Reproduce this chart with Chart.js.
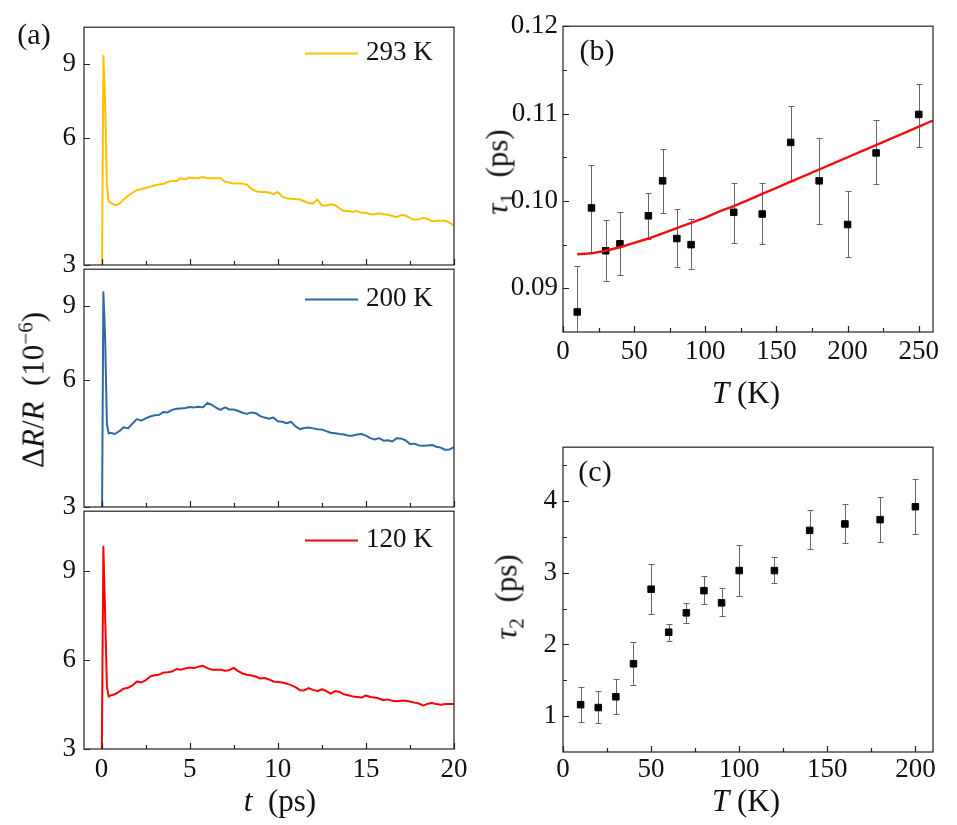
<!DOCTYPE html>
<html>
<head>
<meta charset="utf-8">
<script src="https://cdn.jsdelivr.net/npm/chart.js@4.4.1/dist/chart.umd.min.js"></script>
<style>
  body { margin: 0; background: #fff; width: 957px; height: 825px; position: relative; overflow: hidden;
         font-family: "Liberation Serif", serif; color: #111; }
  canvas { position: absolute; }
  .lbl { position: absolute; white-space: nowrap; transform: translate(-50%, -50%); font-size: 31px; line-height: 1; }
  .rot { transform: translate(-50%, -50%) rotate(-90deg); }
  .lbl sup, .lbl sub { font-size: 0.68em; line-height: 0; }
  .panel { font-size: 30px; }
  .leg { position: absolute; font-size: 27px; line-height: 1; white-space: nowrap; transform: translateY(-50%); }
  .leg span { display: inline-block; width: 53px; height: 2px; vertical-align: middle; margin-right: 8px; }
</style>
</head>
<body>
<canvas id="a1" width="435" height="287" style="left:40px;top:3px"></canvas>
<canvas id="a2" width="435" height="287" style="left:40px;top:245px"></canvas>
<canvas id="a3" width="435" height="300" style="left:40px;top:487px"></canvas>
<canvas id="b" width="450" height="395" style="left:500px;top:5px"></canvas>
<canvas id="c" width="450" height="385" style="left:500px;top:425px"></canvas>

<div class="lbl panel" style="left:34px;top:34px">(a)</div>
<div class="lbl panel" style="left:597px;top:50px">(b)</div>
<div class="lbl panel" style="left:595px;top:471px">(c)</div>

<div class="lbl rot" style="left:33px;top:390px">Δ<i>R</i>/<i>R</i>&nbsp;&nbsp;(10<sup>−6</sup>)</div>
<div class="lbl" style="left:280px;top:800px"><i>t</i>&nbsp;&nbsp;(ps)</div>
<div class="lbl rot" style="left:497px;top:172px"><i>τ</i><sub>1</sub>&nbsp;&nbsp;(ps)</div>
<div class="lbl" style="left:746px;top:392px"><i>T</i> (K)</div>
<div class="lbl rot" style="left:506px;top:597px"><i>τ</i><sub>2</sub>&nbsp;&nbsp;(ps)</div>
<div class="lbl" style="left:746px;top:800px"><i>T</i> (K)</div>

<div class="leg" style="left:305px;top:51px"><span style="background:#FFC000"></span>293 K</div>
<div class="leg" style="left:305px;top:297px"><span style="background:#32679F"></span>200 K</div>
<div class="leg" style="left:305px;top:538px"><span style="background:#FF0000"></span>120 K</div>

<script>
// delay time (ps), shared by the three traces
const tPs = [0, 0.1, 0.2, 0.3, 0.4, 0.5, 0.75, 1, 1.25, 1.5, 1.75, 2, 2.25, 2.5, 2.75, 3, 3.25, 3.5, 3.75, 4,
  4.25, 4.5, 4.75, 5, 5.25, 5.5, 5.75, 6, 6.25, 6.5, 6.75, 7, 7.25, 7.5, 7.75, 8, 8.25, 8.5, 8.75, 9,
  9.25, 9.5, 9.75, 10, 10.25, 10.5, 10.75, 11, 11.25, 11.5, 11.75, 12, 12.25, 12.5, 12.75, 13, 13.25, 13.5, 13.75, 14,
  14.25, 14.5, 14.75, 15, 15.25, 15.5, 15.75, 16, 16.25, 16.5, 16.75, 17, 17.25, 17.5, 17.75, 18, 18.25, 18.5, 18.75, 19,
  19.25, 19.5, 19.75, 20];

const dR293 = [2.0, 9.4, 7.3, 4.65, 4.25, 4.22, 4.16, 4.19, 4.29, 4.38, 4.45, 4.52, 4.54, 4.57, 4.60, 4.63, 4.66, 4.67, 4.72, 4.75,
  4.75, 4.82, 4.79, 4.84, 4.82, 4.82, 4.85, 4.82, 4.82, 4.82, 4.82, 4.73, 4.71, 4.68, 4.68, 4.68, 4.65, 4.55, 4.49, 4.47,
  4.47, 4.46, 4.42, 4.47, 4.36, 4.32, 4.31, 4.30, 4.29, 4.25, 4.21, 4.20, 4.29, 4.15, 4.15, 4.18, 4.16, 4.09, 4.03, 4.03,
  4.01, 4.03, 3.99, 3.99, 3.96, 3.96, 3.98, 3.96, 3.95, 3.92, 3.90, 3.94, 3.93, 3.88, 3.84, 3.85, 3.88, 3.86, 3.81, 3.82,
  3.82, 3.82, 3.78, 3.72];

const dR200 = [2.0, 9.7, 7.55, 4.72, 4.48, 4.50, 4.47, 4.54, 4.64, 4.61, 4.73, 4.85, 4.81, 4.87, 4.92, 4.95, 4.96, 5.04, 5.03, 5.10,
  5.13, 5.14, 5.15, 5.18, 5.17, 5.19, 5.17, 5.30, 5.24, 5.16, 5.10, 5.17, 5.11, 5.11, 5.07, 5.02, 4.99, 5.03, 5.01, 4.93,
  4.89, 4.86, 4.89, 4.79, 4.78, 4.74, 4.78, 4.66, 4.59, 4.62, 4.63, 4.61, 4.59, 4.58, 4.54, 4.50, 4.49, 4.47, 4.46, 4.43,
  4.43, 4.46, 4.47, 4.43, 4.37, 4.34, 4.37, 4.31, 4.32, 4.29, 4.37, 4.36, 4.32, 4.23, 4.24, 4.20, 4.19, 4.20, 4.21, 4.17,
  4.15, 4.10, 4.11, 4.16];

const dR120 = [2.0, 9.8, 7.5, 5.1, 4.76, 4.80, 4.84, 4.93, 5.03, 5.06, 5.14, 5.27, 5.24, 5.31, 5.44, 5.48, 5.50, 5.57, 5.58, 5.61,
  5.69, 5.67, 5.71, 5.74, 5.72, 5.77, 5.80, 5.72, 5.67, 5.67, 5.67, 5.63, 5.65, 5.73, 5.62, 5.54, 5.50, 5.47, 5.44, 5.37,
  5.39, 5.34, 5.27, 5.25, 5.24, 5.20, 5.15, 5.08, 4.98, 4.97, 5.05, 4.99, 4.95, 5.01, 4.95, 4.86, 4.95, 4.92, 4.84, 4.81,
  4.77, 4.75, 4.73, 4.80, 4.75, 4.73, 4.70, 4.64, 4.67, 4.62, 4.61, 4.62, 4.62, 4.60, 4.56, 4.53, 4.46, 4.52, 4.55, 4.51,
  4.49, 4.51, 4.51, 4.51];

// panel (b): tau1 vs T
const bT = [10, 20, 30, 40, 60, 70, 80, 90, 120, 140, 160, 180, 200, 220, 250];
const tau1 = [0.0873, 0.0992, 0.0943, 0.0951, 0.0983, 0.1023, 0.0957, 0.0950, 0.0987, 0.0985, 0.1067, 0.1023, 0.0973, 0.1055, 0.1099];
const tau1Hi = [0.0925, 0.1041, 0.0978, 0.0987, 0.1009, 0.1060, 0.0991, 0.0979, 0.1021, 0.1020, 0.1109, 0.1072, 0.1011, 0.1093, 0.1134];
const tau1Lo = [0.0820, 0.0942, 0.0908, 0.0915, 0.0956, 0.0986, 0.0924, 0.0922, 0.0952, 0.0951, 0.1023, 0.0974, 0.0936, 0.1019, 0.1062];
const fitT = [10, 20, 30, 40, 50, 60, 70, 80, 90, 100, 110, 120, 130, 140, 150, 160, 170, 180, 190, 200, 210, 220, 230, 240, 250, 260];
const fitTau = [0.0939, 0.0940, 0.0943, 0.0947, 0.0952, 0.0957, 0.0963, 0.0969, 0.0975, 0.0981, 0.0988, 0.0994, 0.1001,
  0.1008, 0.1015, 0.1022, 0.1029, 0.1036, 0.1043, 0.1050, 0.1057, 0.1064, 0.1071, 0.1078, 0.1085, 0.1092];

// panel (c): tau2 vs T
const cT = [10, 20, 30, 40, 50, 60, 70, 80, 90, 100, 120, 140, 160, 180, 200];
const tau2 = [1.16, 1.12, 1.27, 1.73, 2.77, 2.17, 2.44, 2.75, 2.58, 3.03, 3.03, 3.59, 3.68, 3.74, 3.92];
const tau2Hi = [1.40, 1.35, 1.52, 2.04, 3.12, 2.29, 2.58, 2.96, 2.78, 3.39, 3.22, 3.87, 3.96, 4.06, 4.30];
const tau2Lo = [0.92, 0.90, 1.03, 1.43, 2.42, 2.05, 2.30, 2.56, 2.39, 2.68, 2.85, 3.33, 3.41, 3.43, 3.54];

// tick values
const aTicksX = [0, 5, 10, 15, 20];
const aMinorX = [2.5, 7.5, 12.5, 17.5];
const aTicksY = [3, 6, 9];
const bTicksX = [0, 50, 100, 150, 200, 250];
const bMinorX = [25, 75, 125, 175, 225];
const bTicksY = [0.09, 0.10, 0.11, 0.12];
const bMinorY = [0.095, 0.105, 0.115];
const cTicksX = [0, 50, 100, 150, 200];
const cMinorX = [25, 75, 125, 175];
const cTicksY = [1, 2, 3, 4];
const cMinorY = [1.5, 2.5, 3.5, 4.5];

const tickFont = { family: "'Liberation Serif', serif", size: 27 };

const pts = (xs, ys) => xs.map((x, i) => ({ x: x, y: ys[i] }));

// frame + inward tick marks
function frameTicks(spec) {
  return {
    id: 'frameTicks',
    afterDraw(chart) {
      const { ctx, chartArea: a, scales } = chart;
      ctx.save();
      ctx.strokeStyle = '#222';
      ctx.lineWidth = 1.2;
      ctx.beginPath();
      const xt = (list, len) => list.forEach(v => {
        const px = Math.round(scales.x.getPixelForValue(v)) + 0.5;
        ctx.moveTo(px, a.bottom); ctx.lineTo(px, a.bottom - len);
      });
      const yt = (list, len) => list.forEach(v => {
        const py = Math.round(scales.y.getPixelForValue(v)) + 0.5;
        ctx.moveTo(a.left, py); ctx.lineTo(a.left + len, py);
      });
      xt(spec.xMajor || [], 6);
      xt(spec.xMinor || [], 4);
      yt(spec.yMajor || [], 6);
      yt(spec.yMinor || [], 4);
      ctx.stroke();
      ctx.strokeRect(a.left, a.top, a.right - a.left, a.bottom - a.top);
      ctx.restore();
    }
  };
}

function errorBars(xs, lo, hi) {
  return {
    id: 'errorBars',
    beforeDatasetsDraw(chart) {
      const { ctx, chartArea: a, scales } = chart;
      ctx.save();
      ctx.beginPath();
      ctx.rect(a.left, a.top, a.right - a.left, a.bottom - a.top);
      ctx.clip();
      ctx.strokeStyle = '#666';
      ctx.lineWidth = 1;
      ctx.beginPath();
      xs.forEach((x, i) => {
        const px = Math.round(scales.x.getPixelForValue(x)) + 0.5;
        const y1 = Math.round(scales.y.getPixelForValue(lo[i])) + 0.5;
        const y2 = Math.round(scales.y.getPixelForValue(hi[i])) + 0.5;
        ctx.moveTo(px, y1); ctx.lineTo(px, y2);
        ctx.moveTo(px - 3, y1); ctx.lineTo(px + 3, y1);
        ctx.moveTo(px - 3, y2); ctx.lineTo(px + 3, y2);
      });
      ctx.stroke();
      ctx.restore();
    }
  };
}

function axis(opts) {
  return {
    type: opts.type || 'linear',
    min: opts.min,
    max: opts.max,
    grid: { display: false, drawTicks: false },
    border: { display: false },
    afterBuildTicks: s => { s.ticks = opts.ticks.map(v => ({ value: v })); },
    afterFit: s => { if (opts.w) s.width = opts.w; if (opts.h) s.height = opts.h; },
    ticks: {
      display: opts.labels !== false,
      font: tickFont,
      color: '#111',
      padding: opts.pad,
      maxRotation: 0,
      autoSkip: false,
      callback: opts.fmt || (v => String(v))
    }
  };
}

function baseOptions(pad, x, y) {
  return {
    responsive: false,
    animation: false,
    events: [],
    layout: { padding: pad },
    plugins: { legend: { display: false }, tooltip: { enabled: false } },
    scales: { x: axis(x), y: axis(y) }
  };
}

// panel (a): three stacked traces
function tracePanel(id, values, color, logY, showX) {
  new Chart(document.getElementById(id), {
    type: 'scatter',
    data: {
      datasets: [{
        data: pts(tPs, values),
        showLine: true,
        borderColor: color,
        borderWidth: 2,
        pointRadius: 0,
        tension: 0,
        borderJoinStyle: 'round',
        clip: 0
      }]
    },
    options: baseOptions(
      { top: 20, right: 21, left: 0, bottom: 0 },
      { min: -1, max: 20, ticks: aTicksX, labels: showX, pad: 5, h: showX ? 38 : 25 },
      { type: logY ? 'logarithmic' : 'linear', min: 3, max: 11, ticks: aTicksY, pad: 8, w: 44 }
    ),
    plugins: [frameTicks({ xMajor: aTicksX, xMinor: aMinorX, yMajor: aTicksY })]
  });
}

tracePanel('a1', dR293, '#FFC000', true, false);
tracePanel('a2', dR200, '#32679F', true, false);
tracePanel('a3', dR120, '#FF0000', false, true);

// panel (b)
new Chart(document.getElementById('b'), {
  type: 'scatter',
  data: {
    datasets: [
      {
        data: pts(fitT, fitTau),
        showLine: true,
        borderColor: '#F01010',
        borderWidth: 2.4,
        pointRadius: 0,
        tension: 0,
        clip: 0
      },
      {
        data: pts(bT, tau1),
        pointStyle: 'rect',
        pointRadius: 4.6,
        backgroundColor: '#000',
        borderColor: '#000',
        borderWidth: 1
      }
    ]
  },
  options: baseOptions(
    { top: 20, right: 17, left: 0, bottom: 0 },
    { min: 0, max: 260, ticks: bTicksX, pad: 4, h: 68 },
    { min: 0.085, max: 0.12, ticks: bTicksY, pad: 5, w: 63, fmt: v => v.toFixed(2) }
  ),
  plugins: [
    errorBars(bT, tau1Lo, tau1Hi),
    frameTicks({ xMajor: bTicksX, xMinor: bMinorX, yMajor: bTicksY, yMinor: bMinorY })
  ]
});

// panel (c)
new Chart(document.getElementById('c'), {
  type: 'scatter',
  data: {
    datasets: [{
      data: pts(cT, tau2),
      pointStyle: 'rect',
      pointRadius: 4.6,
      backgroundColor: '#000',
      borderColor: '#000',
      borderWidth: 1
    }]
  },
  options: baseOptions(
    { top: 20, right: 17, left: 0, bottom: 0 },
    { min: 0, max: 210, ticks: cTicksX, pad: 2, h: 58 },
    { min: 0.5, max: 4.75, ticks: cTicksY, pad: 6, w: 63 }
  ),
  plugins: [
    errorBars(cT, tau2Lo, tau2Hi),
    frameTicks({ xMajor: cTicksX, xMinor: cMinorX, yMajor: cTicksY, yMinor: cMinorY })
  ]
});
</script>
</body>
</html>
